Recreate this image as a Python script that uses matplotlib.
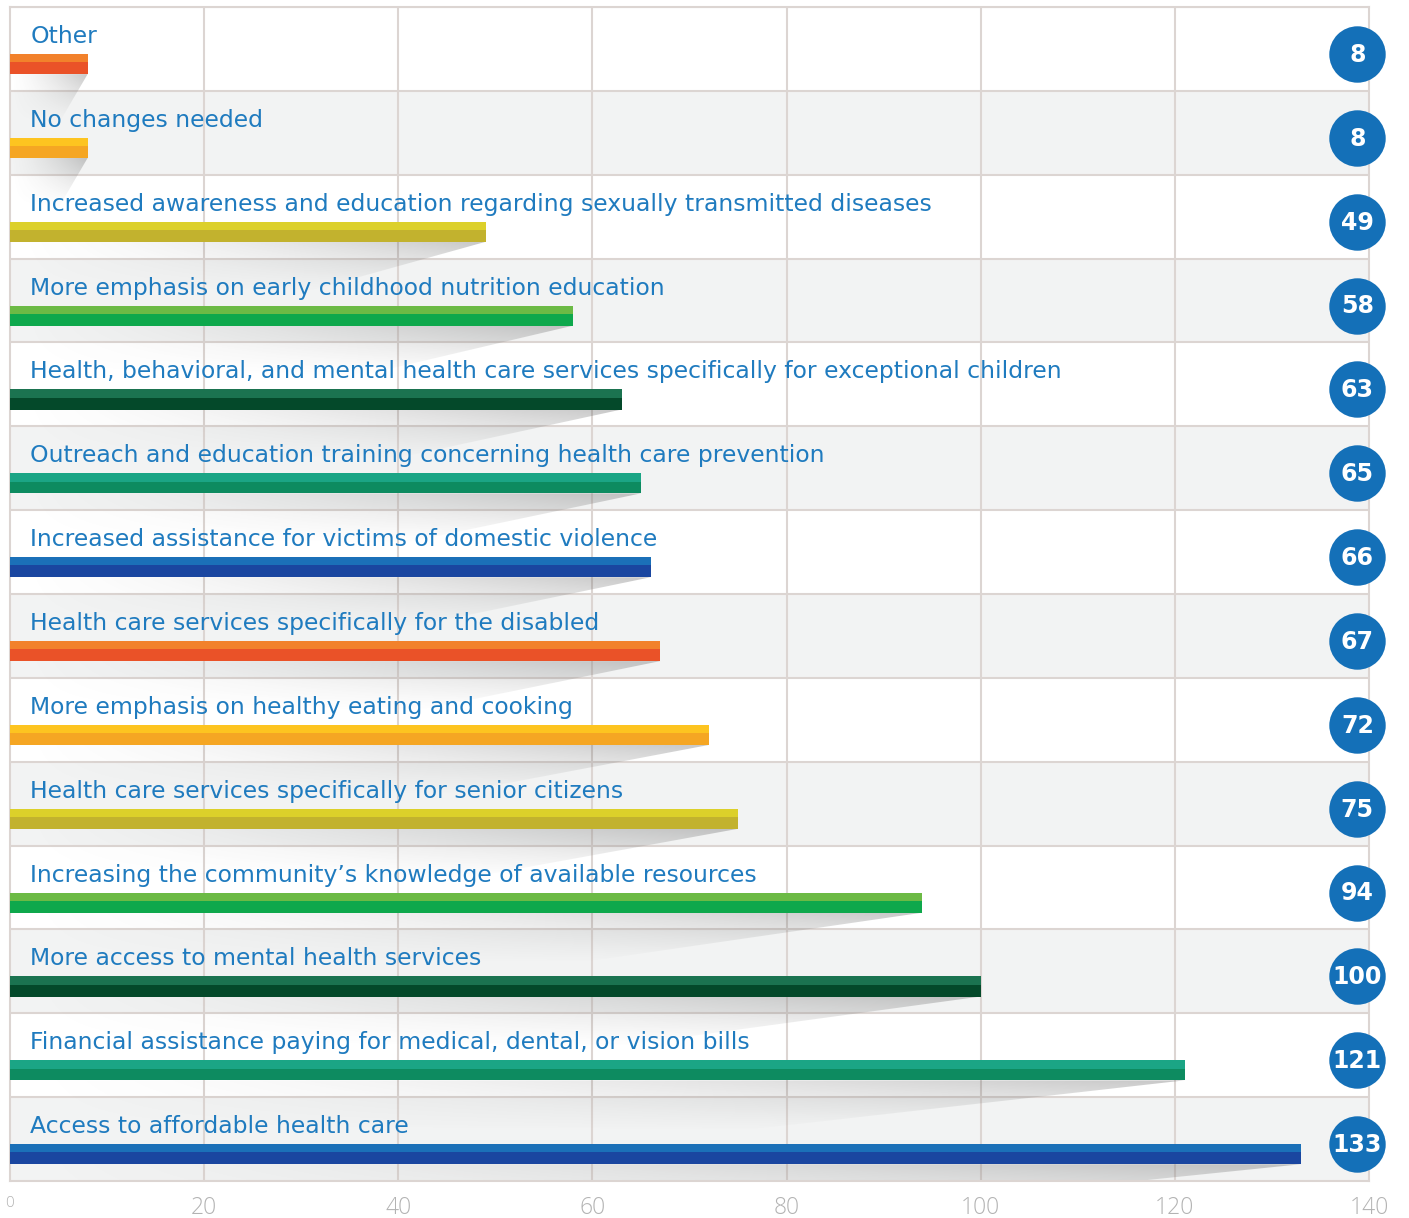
import numpy as np
from matplotlib import pyplot as plt
from matplotlib.patches import Polygon

labels = [
    'Other',
    'No changes needed',
    'Increased awareness and education regarding sexually transmitted diseases',
    'More emphasis on early childhood nutrition education',
    'Health, behavioral, and mental health care services specifically for exceptional children',
    'Outreach and education training concerning health care prevention',
    'Increased assistance for victims of domestic violence',
    'Health care services specifically for the disabled',
    'More emphasis on healthy eating and cooking',
    'Health care services specifically for senior citizens',
    'Increasing the community\u2019s knowledge of available resources',
    'More access to mental health services',
    'Financial assistance paying for medical, dental, or vision bills',
    'Access to affordable health care',
]
values = [8, 8, 49, 58, 63, 65, 66, 67, 72, 75, 94, 100, 121, 133]
ticks = [0, 20, 40, 60, 80, 100, 120, 140]

# (top, bottom) shades for each bar colour
palette = [
    ('#f2812b', '#ea5228'),  # orange
    ('#fdc420', '#f5a623'),  # yellow
    ('#dcd02a', '#c2b22e'),  # olive
    ('#6cba45', '#0ea84c'),  # green
    ('#1b7350', '#04492a'),  # dark green
    ('#1ba585', '#0d8b60'),  # teal
    ('#1b70b8', '#1a46a0'),  # blue
]
colors = [palette[i % len(palette)] for i in range(len(values))]

LABEL_BLUE = '#1f7bbf'
GRID = '#dcd5d2'

fig = plt.figure(figsize=(14.09, 12.18), dpi=100)
ax = fig.add_axes([10 / 1409, 37 / 1218, 1359 / 1409, 1174 / 1218])
ax.set_xlim(0, 140)
ax.set_ylim(len(values), 0)

for i in range(len(values)):
    ax.axhspan(i, i + 1, color='white' if i % 2 == 0 else '#f2f3f3', zorder=0, lw=0)
    ax.axhline(i, color=GRID, lw=1.5, zorder=1)

for t in ticks[1:-1]:
    ax.axvline(t, color=GRID, lw=1.5, zorder=1)

for i, (lab, v, (c_top, c_bot)) in enumerate(zip(labels, values, colors)):
    y0 = i + 0.56
    # shadow under the bar
    sh_top, sh_bot = i + 0.80, i + 1.40
    poly = Polygon([(0, sh_top), (v, sh_top), (0.62 * v, sh_bot), (0, sh_bot)],
                   closed=True, facecolor='none', edgecolor='none')
    ax.add_patch(poly)
    gx = np.linspace(0, 1, 200)[None, :]
    gy = np.linspace(0, 1, 40)[:, None]
    alpha = 0.38 * gx ** 1.4 * (1 - gy) ** 1.1
    img = np.zeros((40, 200, 4))
    img[..., :3] = 0.42
    img[..., 3] = alpha
    im = ax.imshow(img, extent=(0, v, sh_bot, sh_top), aspect='auto',
                   zorder=2, interpolation='bilinear')
    im.set_clip_path(poly)

    ax.barh(y0 + 0.05, v, height=0.10, color=c_top, zorder=3, lw=0)
    ax.barh(y0 + 0.17, v, height=0.14, color=c_bot, zorder=3, lw=0)

    ax.text(2.1, i + 0.43, lab, color=LABEL_BLUE, fontsize=16.9,
            family='DejaVu Sans', va='baseline', ha='left', zorder=4)

    ax.scatter([138.8], [i + 0.56], s=1650, color='#1470b8', zorder=5,
               clip_on=False, lw=0)
    ax.text(138.8, i + 0.57, str(v), color='white', fontsize=17,
            fontweight='bold', ha='center', va='center', zorder=6,
            clip_on=False)

for side in ['top', 'bottom', 'left', 'right']:
    ax.spines[side].set_color(GRID)
    ax.spines[side].set_linewidth(1.5)

ax.set_yticks([])
ax.set_xticks(ticks)
ax.set_xticklabels([str(t) for t in ticks], color='#b3b3b3', fontsize=16.5,
                   family='Open Sans', fontweight='light')
ax.get_xticklabels()[0].set_fontsize(11)
ax.tick_params(axis='x', length=0, pad=11)

plt.savefig('out.png', dpi=100)
